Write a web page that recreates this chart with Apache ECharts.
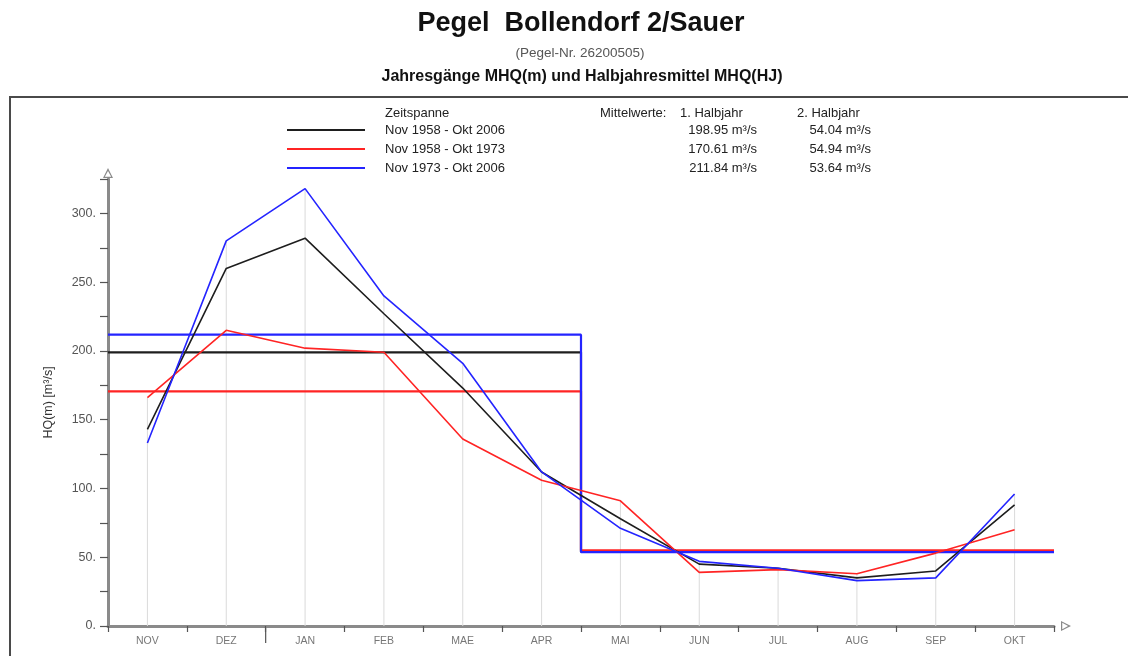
<!DOCTYPE html>
<html>
<head>
<meta charset="utf-8">
<script src="https://cdn.jsdelivr.net/npm/echarts@6/dist/echarts.min.js"></script>
<style>
  html, body { margin: 0; background: #fff; }
  #main { width: 1128px; height: 656px; }
</style>
</head>
<body>
<div id="main"></div>
<script>
// Monate (Abflussjahr Nov - Okt)
var months = ['NOV', 'DEZ', 'JAN', 'FEB', 'MAE', 'APR', 'MAI', 'JUN', 'JUL', 'AUG', 'SEP', 'OKT'];
var periods = ['Nov 1958 - Okt 2006', 'Nov 1958 - Okt 1973', 'Nov 1973 - Okt 2006'];
var colors = ['#1e1e1e', '#ff2424', '#2424ff'];

// MHQ(m) je Monat [m3/s]
var mhq5806 = [143, 260, 282, 227, 173, 112, 78, 45, 42, 35, 40, 88];
var mhq5873 = [166, 215, 202, 199, 136, 106, 91, 39, 41, 38, 53, 70];
var mhq7306 = [133, 280, 318, 240, 191, 112, 71, 47, 42, 33, 35, 96];

// Halbjahresmittel MHQ(HJ)
var halbjahr1 = [198.95, 170.61, 211.84];
var halbjahr2 = [54.04, 54.94, 53.64];

var yTicks = { min: 0, max: 325, interval: 25, labelStep: 50 };

var chart = echarts.init(document.getElementById('main'));
var font = 'Liberation Sans, Arial, sans-serif';
var monthly = [mhq5806, mhq5873, mhq7306];

// Hilfslinien vom Maximum bis zur Achse
var dropData = months.map(function (m, i) {
  return Math.max(mhq5806[i], mhq5873[i], mhq7306[i]);
});

var series = [{
  type: 'bar',
  data: dropData,
  barWidth: 1,
  silent: true,
  z: 1,
  itemStyle: { color: '#dadada' }
}];

// Halbjahresmittel als Treppe (Nov-Apr / Mai-Okt)
for (var i = 0; i < 3; i++) {
  series.push({
    type: 'line',
    xAxisIndex: 1,
    data: [[0, halbjahr1[i]], [6, halbjahr1[i]], [6, halbjahr2[i]], [12, halbjahr2[i]]],
    symbol: 'none',
    silent: true,
    z: 3,
    lineStyle: { color: colors[i], width: 2.2 }
  });
}
// Jahresgaenge
for (var j = 0; j < 3; j++) {
  series.push({
    name: periods[j],
    type: 'line',
    data: monthly[j],
    symbol: 'none',
    z: 4,
    lineStyle: { color: colors[j], width: 1.6 }
  });
}

var arrowPath = 'path://M0 0 L6 12 L-6 12 Z M0 3.5 L-3.8 10.5 L3.8 10.5 Z';

var option = {
  backgroundColor: '#fff',
  animation: false,
  grid: { left: 108, right: 74, top: 179, bottom: 30 },
  xAxis: [{
    type: 'category',
    data: months,
    boundaryGap: true,
    axisLine: {
      lineStyle: { color: '#8a8a8a', width: 3 },
      symbol: ['none', arrowPath],
      symbolSize: [10, 12],
      symbolOffset: [0, 12]
    },
    axisTick: { show: true, interval: 0, length: 6, lineStyle: { color: '#555', width: 1.2 } },
    axisLabel: { fontSize: 10.5, color: '#777', margin: 10, fontFamily: font },
    splitLine: { show: false }
  }, {
    type: 'value',
    min: 0,
    max: 12,
    show: false
  }],
  yAxis: {
    type: 'value',
    min: yTicks.min,
    max: yTicks.max,
    interval: yTicks.interval,
    name: 'HQ(m) [m³/s]',
    nameLocation: 'middle',
    nameGap: 53,
    nameRotate: 90,
    nameTextStyle: { fontSize: 12.5, color: '#333', fontFamily: font },
    axisLine: {
      show: true,
      lineStyle: { color: '#8a8a8a', width: 3 },
      symbol: ['none', arrowPath],
      symbolSize: [10, 12],
      symbolOffset: [0, 6]
    },
    axisTick: { show: true, length: 8, lineStyle: { color: '#555', width: 1.2 } },
    axisLabel: {
      fontSize: 12.5,
      color: '#555',
      margin: 12,
      fontFamily: font,
      formatter: function (v) { return v % yTicks.labelStep === 0 && v < yTicks.max ? v + '.' : ''; }
    },
    splitLine: { show: false }
  },
  series: series
};

chart.setOption(option);

// Legende, Titel und Rahmen
var txt = function (x, y, text, size, extra) {
  var style = { text: text, fontSize: size, fontFamily: font, fill: '#222', verticalAlign: 'middle' };
  for (var key in extra) style[key] = extra[key];
  return { type: 'text', x: x, y: y, style: style };
};
var graphics = [
  { type: 'rect', z: 0, silent: true, shape: { x: 10, y: 97, width: 1200, height: 700 },
    style: { fill: 'none', stroke: '#4a4a4a', lineWidth: 2 } },
  txt(581, 24, 'Pegel  Bollendorf 2/Sauer', 27, { fontWeight: 'bold', fill: '#111', align: 'center' }),
  txt(580, 53, '(Pegel-Nr. 26200505)', 13.5, { fill: '#555', align: 'center' }),
  txt(582, 77, 'Jahresgänge MHQ(m) und Halbjahresmittel MHQ(HJ)', 16, { fontWeight: 'bold', fill: '#111', align: 'center' }),
  txt(385, 113, 'Zeitspanne', 13),
  txt(600, 113, 'Mittelwerte:', 13),
  txt(680, 113, '1. Halbjahr', 13),
  txt(797, 113, '2. Halbjahr', 13)
];
for (var k = 0; k < 3; k++) {
  var ly = 130 + k * 19;
  graphics.push({ type: 'line', shape: { x1: 287, y1: ly, x2: 365, y2: ly }, style: { stroke: colors[k], lineWidth: 2 } });
  graphics.push(txt(385, ly, periods[k], 13));
  graphics.push(txt(757, ly, halbjahr1[k].toFixed(2) + ' m³/s', 13, { align: 'right' }));
  graphics.push(txt(871, ly, halbjahr2[k].toFixed(2) + ' m³/s', 13, { align: 'right' }));
}
// langer Strich am Jahreswechsel (DEZ/JAN)
var yw = chart.convertToPixel({ xAxisIndex: 1, yAxisIndex: 0 }, [2, 0]);
graphics.push({ type: 'line', shape: { x1: yw[0], y1: yw[1], x2: yw[0], y2: yw[1] + 17 }, style: { stroke: '#555', lineWidth: 1.2 } });

chart.setOption({ graphic: graphics });
</script>
</body>
</html>
